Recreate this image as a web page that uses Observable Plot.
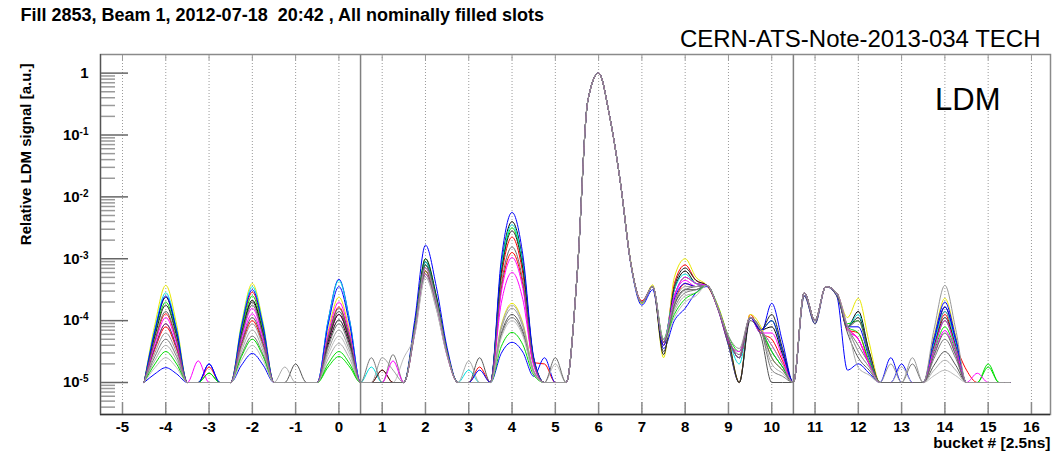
<!DOCTYPE html>
<html>
<head>
<meta charset="utf-8">
<script src="https://cdn.jsdelivr.net/npm/d3@7"></script>
<script src="https://cdn.jsdelivr.net/npm/@observablehq/plot@0.6"></script>
<style>
  html, body { margin: 0; padding: 0; background: #fff; }
  #chart svg { display: block; }
</style>
</head>
<body>
<div id="chart"></div>
<script>
// Texts
const titleText = "Fill 2853, Beam 1, 2012-07-18\u00a0 20:42 , All nominally filled slots";
const noteText = "CERN-ATS-Note-2013-034 TECH";
const tagText = "LDM";
const yLabelText = "Relative LDM signal [a.u.]";
const xLabelText = "bucket # [2.5ns]";

// Ticks
const xTicks = [-5,-4,-3,-2,-1,0,1,2,3,4,5,6,7,8,9,10,11,12,13,14,15,16];
const yTicks = [1e-5,1e-4,1e-3,1e-2,1e-1,1];
const yTickLabels = ["10^-5","10^-4","10^-3","10^-2","10^-1","1"];
const separators = [0.5, 10.5];

// Sampling grid (bucket #)
const buckets = [-4.5,-4.25,-4,-3.75,-3.5,-3.25,-3,-2.75,-2.5,-2.25,-2,-1.75,-1.5,-1.25,-1,-0.75,-0.5,-0.25,0,0.25,0.5,0.75,1,1.25,1.5,1.75,2,2.25,2.5,2.75,3,3.25,3.5,3.75,4,4.25,4.5,4.75,5,5.25,5.5,5.75,6,6.25,6.5,6.75,7,7.25,7.5,7.75,8,8.25,8.5,8.75,9,9.25,9.5,9.75,10,10.25,10.5,10.75,11,11.25,11.5,11.75,12,12.25,12.5,12.75,13,13.25,13.5,13.75,14,14.25,14.5,14.75,15,15.25,15.5];

// Line colours (one per slot trace, in drawing order)
const lineColors = ["#000000","#ff0000","#ff0000","#00e000","#0000ff","#e8e800","#ff00ff","#00e0e0","#555555","#aaaaaa","#222222","#0000ff","#777777","#00dd00","#bbbbbb","#ff00ff","#666666","#999999"];

// log10 of relative LDM signal, one array per trace, on the bucket grid
const signalLog10 = [
 [-5,-4.17,-3.62,-4.17,-5, -5,-5,-5, -5,-4.2,-3.67,-4.2,-5, -5,-5,-5, -5,-4.39,-3.99,-4.39,-5, -5,-5,-5,-5, -4.12,-3.05,-3.63,-4.51,-5, -5,-5,-5, -3.13,-2.4,-3.05,-4.61,-5, -5,-5, -3.3,-0.45,0,-0.68,-1.75,-3.1,-3.7,-3.45,-4.35, -3.5,-3.2,-3.4,-3.43,-3.78, -4.3,-4.6,-3.95,-4.15,-4.1,-4.55,-5, -3.55,-4.0,-3.45,-3.55,-4.1, -3.85,-4.5,-5, -5,-5,-5,-5, -4.33,-3.78,-4.33,-5,-5, -5,-5,-5],
 [-5,-4.33,-3.89,-4.33,-5, -5,-4.75,-5, -5,-4.12,-3.54,-4.12,-5, -5,-5,-5, -5,-4.27,-3.78,-4.27,-5, -5,-5,-5,-5, -4.14,-3.1,-3.67,-4.52,-5, -5,-5,-5, -3.31,-2.65,-3.24,-4.65,-5, -5,-5, -3.3,-0.45,0,-0.68,-1.75,-3.1,-3.68,-3.45,-4.4, -3.4,-3.1,-3.35,-3.43,-3.8, -4.35,-5,-3.9,-4.2,-4.3,-4.65,-5, -3.55,-4.0,-3.45,-3.55,-4.15, -4.2,-4.7,-5, -5,-5,-5,-5, -4.4,-3.9,-4.4,-4.8,-5, -5,-5,-5],
 [-5,-4.46,-4.1,-4.46,-5, -5,-5,-5, -5,-4.4,-4.0,-4.4,-5, -5,-5,-5, -5,-4.34,-3.9,-4.34,-5, -5,-4.8,-5,-5, -4.19,-3.2,-3.74,-4.55,-5, -5,-4.75,-5, -3.49,-2.9,-3.42,-4.68,-4.7, -5,-5, -3.3,-0.45,0,-0.68,-1.75,-3.1,-3.7,-3.45,-4.35, -3.7,-3.4,-3.45,-3.43,-3.78, -4.3,-4.6,-3.95,-4.15,-4.5,-4.75,-5, -3.55,-4.0,-3.45,-3.55,-4.1, -4.3,-4.7,-5, -5,-5,-5,-5, -4.37,-3.85,-4.37,-5,-5, -5,-5,-5],
 [-5,-4.22,-3.7,-4.22,-5, -5,-4.85,-5, -5,-4.16,-3.6,-4.16,-5, -5,-5,-5, -5,-4.75,-4.58,-4.75,-5, -5,-5,-5,-5, -4.1,-3.0,-3.6,-4.5,-5, -5,-5,-5, -3.2,-2.5,-3.12,-4.62,-5, -5,-5, -3.3,-0.45,0,-0.68,-1.75,-3.1,-3.72,-3.45,-4.3, -3.6,-3.3,-3.4,-3.43,-3.75, -4.25,-4.5,-3.95,-4.15,-4.0,-4.5,-5, -3.55,-4.0,-3.45,-3.55,-4.05, -4.0,-4.55,-5, -5,-5,-5,-5, -4.5,-4.1,-4.5,-5,-5, -4.7,-5,-5],
 [-5,-4.86,-4.76,-4.86,-5, -5,-4.7,-5, -5,-4.72,-4.53,-4.72,-5, -5,-5,-5, -5,-4.0,-3.33,-4.0,-5, -5,-5,-5,-5, -4.0,-2.78,-3.45,-4.44,-5, -5,-5,-5, -4.53,-4.35,-4.51,-4.9,-4.6, -5,-5, -3.3,-0.45,0,-0.68,-1.75,-3.12,-3.75,-3.5,-4.45, -4.0,-3.8,-3.55,-3.45,-3.8, -4.4,-5,-3.95,-4.2,-3.72,-4.35,-5, -3.6,-4.05,-3.45,-3.6,-4.8, -4.7,-4.85,-5, -5,-4.7,-5,-5, -4.33,-3.78,-4.33,-5,-5, -5,-5,-5],
 [-5,-4.06,-3.43,-4.06,-5, -5,-5,-5, -5,-4.04,-3.4,-4.04,-5, -5,-5,-5, -5,-4.17,-3.62,-4.17,-5, -5,-5,-5,-5, -4.19,-3.2,-3.74,-4.55,-5, -5,-5,-5, -4.08,-3.72,-4.04,-4.81,-5, -5,-5, -3.3,-0.45,0,-0.68,-1.75,-3.08,-3.72,-3.42,-4.6, -3.3,-3.0,-3.3,-3.43,-3.75, -4.3,-5,-3.9,-4.1,-4.6,-4.8,-5, -3.55,-4.0,-3.45,-3.55,-3.95, -3.64,-4.35,-5, -5,-5,-5,-5, -4.25,-3.64,-4.25,-5,-5, -5,-5,-5],
 [-5,-4.43,-4.05,-4.43,-5, -4.65,-5,-5, -5,-4.33,-3.89,-4.33,-5, -5,-5,-5, -5,-4.34,-3.9,-4.34,-5, -5,-5,-5,-5, -4.21,-3.25,-3.77,-4.56,-5, -5,-5,-5, -3.72,-3.22,-3.66,-4.73,-5, -5,-5, -3.3,-0.45,0,-0.68,-1.75,-3.1,-3.7,-3.45,-4.35, -3.6,-3.35,-3.45,-3.43,-3.8, -4.35,-4.5,-3.95,-4.2,-4.2,-4.6,-5, -3.55,-4.0,-3.45,-3.55,-4.15, -4.3,-4.7,-5, -5,-5,-5,-5, -4.54,-4.16,-4.54,-5,-5, -5,-5,-5],
 [-5,-4.13,-3.55,-4.13,-5, -5,-5,-5, -5,-4.07,-3.45,-4.07,-5, -5,-5,-5, -5,-4.01,-3.35,-4.01,-5, -4.75,-5,-5,-5, -4.12,-3.05,-3.63,-4.51,-5, -4.8,-5,-5, -3.16,-2.45,-3.09,-4.62,-5, -5,-5, -3.3,-0.45,0,-0.68,-1.75,-3.1,-3.7,-3.45,-4.35, -3.5,-3.25,-3.4,-3.43,-3.78, -4.3,-4.7,-3.95,-4.15,-4.5,-4.75,-5, -3.55,-4.0,-3.45,-3.55,-4.1, -3.9,-4.55,-5, -5,-5,-5,-5, -4.37,-3.85,-4.37,-5,-5, -5,-5,-5],
 [-5,-4.43,-4.05,-4.43,-5, -5,-5,-5, -5,-4.37,-3.95,-4.37,-5, -5,-4.7,-5, -5,-4.31,-3.85,-4.31,-5, -5,-5,-5,-5, -4.19,-3.2,-3.74,-4.55,-5, -5,-4.6,-5, -4.21,-3.9,-4.17,-4.83,-5, -5,-5, -3.3,-0.45,0,-0.68,-1.75,-3.1,-3.7,-3.45,-4.5, -3.75,-3.5,-3.5,-3.43,-3.8, -4.4,-5,-4.0,-4.25,-5,-5,-5, -3.6,-4.05,-3.45,-3.6,-4.2, -4.6,-4.8,-5, -5,-5,-5,-5, -4.72,-4.5,-4.72,-5,-5, -5,-5,-5],
 [-5,-4.64,-4.4,-4.64,-5, -5,-5,-5, -5,-4.49,-4.15,-4.49,-5, -4.75,-5,-5, -5,-4.62,-4.37,-4.62,-5, -5,-5,-5,-5, -4.23,-3.3,-3.81,-4.57,-5, -4.65,-5,-5, -4.1,-3.75,-4.06,-4.81,-5, -5,-5, -3.3,-0.45,0,-0.68,-1.75,-3.1,-3.7,-3.45,-4.35, -3.85,-3.6,-3.55,-3.43,-3.78, -4.3,-4.6,-3.95,-4.15,-4.7,-4.85,-5, -3.55,-4.0,-3.45,-3.55,-4.1, -4.76,-4.88,-5, -5,-5,-5,-5, -4.8,-4.64,-4.8,-5,-5, -5,-5,-5],
 [-5,-4.25,-3.75,-4.25,-5, -5,-5,-5, -5,-4.22,-3.7,-4.22,-5, -5,-5,-5, -5,-4.34,-3.9,-4.34,-5, -5,-4.8,-5,-5, -4.1,-3.0,-3.6,-4.5,-5, -5,-5,-5, -3.24,-2.55,-3.16,-4.63,-5, -5,-5, -3.3,-0.45,0,-0.68,-1.75,-3.1,-3.7,-3.45,-4.55, -3.45,-3.15,-3.35,-3.43,-3.78, -4.3,-5,-3.95,-4.15,-3.9,-4.45,-5, -3.55,-4.0,-3.45,-3.55,-4.1, -3.95,-4.5,-5, -5,-5,-5,-5, -4.42,-3.95,-4.42,-5,-5, -5,-5,-5],
 [-5,-4.16,-3.6,-4.16,-5, -5,-4.7,-5, -5,-4.1,-3.5,-4.1,-5, -5,-5,-5, -5,-4.07,-3.45,-4.07,-5, -5,-5,-5,-5, -4.14,-3.1,-3.67,-4.52,-5, -5,-4.8,-5, -3.02,-2.25,-2.94,-4.59,-5, -5,-5, -3.3,-0.45,0,-0.68,-1.75,-3.1,-3.7,-3.45,-4.4, -3.65,-3.4,-3.45,-3.43,-3.78, -4.3,-4.6,-3.95,-4.15,-4.0,-4.5,-5, -3.55,-4.0,-3.45,-3.55,-4.1, -4.1,-4.6,-5, -4.6,-5,-5,-5, -4.28,-3.7,-4.28,-5,-5, -5,-5,-5],
 [-5,-4.58,-4.3,-4.58,-5, -5,-5,-5, -5,-4.55,-4.25,-4.55,-5, -5,-5,-5, -5,-4.43,-4.05,-4.43,-5, -4.6,-5,-4.55,-5, -4.21,-3.25,-3.77,-4.56,-5, -5,-5,-5, -4.24,-3.95,-4.21,-4.84,-5, -5,-5, -3.3,-0.45,0,-0.68,-1.75,-3.1,-3.7,-3.45,-4.35, -3.8,-3.55,-3.5,-3.43,-3.78, -4.3,-4.55,-3.95,-4.15,-4.8,-4.9,-5, -3.55,-4.0,-3.45,-3.55,-4.1, -4.4,-4.7,-5, -5,-5,-4.7,-5, -4.61,-4.3,-4.61,-5,-5, -5,-5,-5],
 [-5,-4.7,-4.5,-4.7,-5, -5,-4.85,-5, -5,-4.58,-4.3,-4.58,-5, -5,-5,-5, -5,-4.7,-4.5,-4.7,-5, -5,-5,-5,-5, -4.14,-3.1,-3.67,-4.52,-5, -5,-5,-5, -4.42,-4.19,-4.39,-4.88,-5, -5,-5, -3.3,-0.45,0,-0.68,-1.75,-3.1,-3.7,-3.45,-4.35, -3.9,-3.65,-3.55,-3.43,-3.78, -4.3,-4.6,-3.95,-4.15,-4.5,-4.75,-5, -3.55,-4.0,-3.45,-3.55,-4.1, -4.2,-4.65,-5, -5,-5,-5,-5, -4.45,-4.0,-4.45,-5,-5, -4.75,-5,-5],
 [-5,-4.76,-4.6,-4.76,-5, -5,-5,-5, -5,-4.64,-4.4,-4.64,-5, -5,-5,-5, -5,-4.55,-4.25,-4.55,-5, -5,-5,-5,-4.6, -4.23,-3.3,-3.81,-4.57,-5, -5,-5,-5, -4.28,-4.0,-4.25,-4.85,-5, -4.7,-5, -3.3,-0.45,0,-0.68,-1.75,-3.1,-3.7,-3.45,-4.35, -3.95,-3.7,-3.6,-3.43,-3.78, -4.3,-4.6,-3.95,-4.15,-4.6,-4.8,-5, -3.55,-4.0,-3.45,-3.55,-4.1, -4.5,-4.75,-5, -5,-4.75,-5,-5, -4.89,-4.8,-4.89,-5,-5, -5,-5,-5],
 [-5,-4.37,-3.95,-4.37,-5, -5,-5,-5, -5,-4.28,-3.8,-4.28,-5, -5,-5,-5, -5,-4.22,-3.7,-4.22,-5, -5,-5,-4.65,-5, -4.17,-3.15,-3.7,-4.54,-5, -5,-5,-5, -3.55,-2.98,-3.48,-4.7,-5, -5,-5, -3.3,-0.45,0,-0.68,-1.75,-3.1,-3.7,-3.45,-4.35, -3.6,-3.3,-3.4,-3.43,-3.78, -4.3,-4.6,-3.95,-4.15,-4.4,-4.7,-5, -3.55,-4.0,-3.45,-3.55,-4.1, -4.3,-4.7,-5, -5,-5,-5,-5, -4.45,-4.0,-4.45,-5,-4.85, -5,-5,-5],
 [-5,-4.31,-3.85,-4.31,-5, -5,-5,-5, -5,-4.25,-3.75,-4.25,-5, -5,-5,-5, -5,-4.28,-3.8,-4.28,-5, -5,-5,-5,-5, -4.14,-3.1,-3.67,-4.52,-5, -5,-5,-5, -3.42,-2.81,-3.36,-4.67,-5, -4.6,-5, -3.3,-0.45,0,-0.68,-1.75,-3.1,-3.7,-3.45,-4.35, -3.75,-3.5,-3.45,-3.43,-3.78, -4.3,-4.6,-3.95,-4.15,-4.6,-4.8,-5, -3.55,-4.0,-3.45,-3.55,-4.1, -4.0,-4.55,-5, -5,-5,-5,-5, -4.56,-4.2,-4.56,-5,-5, -5,-5,-5],
 [-5,-4.52,-4.2,-4.52,-5, -5,-5,-5, -5,-4.43,-4.05,-4.43,-5, -5,-5,-5, -5,-4.49,-4.15,-4.49,-5, -5,-4.6,-4.8,-5, -4.17,-3.15,-3.7,-4.54,-5, -5,-5,-5, -4.14,-3.8,-4.1,-4.82,-5, -5,-5, -3.3,-0.45,0,-0.68,-1.75,-3.1,-3.7,-3.45,-4.3, -3.7,-3.45,-3.45,-3.43,-3.78, -4.25,-4.45,-3.95,-4.15,-4.4,-4.7,-5, -3.55,-4.0,-3.45,-3.55,-4.1, -4.5,-4.75,-5, -4.7,-5,-4.6,-5, -4.14,-3.43,-4.14,-5,-5, -5,-5,-5]
];

// Scale layout
const W = 1052, H = 451;
const mL = 100, mR = 2, mT = 54, mB = 37;
const frameW = W - mL - mR, frameH = H - mT - mB;
const xDomain = [-5.508, 16.44];
const yDomain = [3.04e-6, 2.0];

const minorTicks = [];
for (let k = -6; k <= 0; k++) for (let m = 2; m <= 9; m++) {
  const v = m * Math.pow(10, k);
  if (v > yDomain[0] && v < yDomain[1]) minorTicks.push(v);
}

const font = "'Liberation Sans', Arial, Helvetica, sans-serif";

const lineMarks = signalLog10.map((vals, i) =>
  Plot.line(vals, {
    x: (d, j) => buckets[j],
    y: d => Math.pow(10, d),
    stroke: lineColors[i],
    strokeWidth: 1,
    curve: "monotone-x"
  })
);

const plot = Plot.plot({
  width: W, height: H,
  marginLeft: mL, marginRight: mR, marginTop: mT, marginBottom: mB,
  style: {fontFamily: font, background: "#fff", color: "#000", overflow: "visible"},
  x: {domain: xDomain, axis: null},
  y: {type: "log", domain: yDomain, axis: null},
  marks: [
    Plot.ruleX(xTicks, {stroke: "#9a9a9a", strokeDasharray: "1,2", strokeWidth: 1}),
    Plot.tickX(xTicks, {x: d => d, insetTop: frameH - 12, stroke: "#8a8a8a", strokeWidth: 1.5}),
    Plot.tickX(xTicks, {x: d => d, insetBottom: frameH - 6, stroke: "#9a9a9a", strokeWidth: 1}),
    Plot.tickY(minorTicks, {y: d => d, insetRight: frameW - 15, stroke: "#9a9a9a", strokeWidth: 1.5}),
    Plot.tickY(yTicks, {y: d => d, insetRight: frameW - 28, stroke: "#666", strokeWidth: 1.5}),
    ...lineMarks,
    Plot.ruleX(separators, {stroke: "#808080", strokeWidth: 1.5}),
    Plot.frame({stroke: "#8a8a8a", strokeWidth: 1.5}),
    Plot.ruleY([yDomain[0]], {stroke: "#333", strokeWidth: 1.5}),
    Plot.ruleX([xDomain[0]], {stroke: "#555", strokeWidth: 1.2}),
    Plot.axisX({ticks: xTicks, tickSize: 0, tickPadding: 7, tickFormat: d => String(d),
      fontSize: 15, fontWeight: "bold", label: null}),
    Plot.axisY({ticks: yTicks, tickSize: 0, tickPadding: 12,
      tickFormat: d => yTickLabels[yTicks.indexOf(d)], fontSize: 15, fontWeight: "bold", label: null}),
    Plot.text([titleText], {text: d => d, frameAnchor: "top-left", dx: -80, dy: -39,
      textAnchor: "start", lineAnchor: "middle", fontSize: 18, fontWeight: "bold"}),
    Plot.text([noteText], {text: d => d, frameAnchor: "top-right", dx: -10, dy: -8,
      textAnchor: "end", lineAnchor: "bottom", fontSize: 24}),
    Plot.text([tagText], {text: d => d, frameAnchor: "top-right", dx: -50, dy: 55,
      textAnchor: "end", lineAnchor: "bottom", fontSize: 31}),
    Plot.text([yLabelText], {text: d => d, frameAnchor: "top-left", dx: -74, dy: 9, rotate: -90,
      textAnchor: "end", lineAnchor: "middle", fontSize: 15, fontWeight: "bold"}),
    Plot.text([xLabelText], {text: d => d, frameAnchor: "bottom-right", dx: 0, dy: 33,
      textAnchor: "end", lineAnchor: "bottom", fontSize: 15.5, fontWeight: "bold"})
  ]
});

// Superscript exponents on the y tick labels
const NS = "http://www.w3.org/2000/svg";
plot.querySelectorAll('g[aria-label="y-axis tick label"] text').forEach(t => {
  const m = /^10\^(.+)$/.exec(t.textContent);
  if (!m) return;
  t.textContent = "";
  const base = document.createElementNS(NS, "tspan");
  base.textContent = "10";
  const sup = document.createElementNS(NS, "tspan");
  sup.setAttribute("dy", "-0.5em");
  sup.setAttribute("font-size", "10");
  sup.textContent = m[1];
  t.append(base, sup);
});

document.getElementById("chart").append(plot);
</script>
</body>
</html>
